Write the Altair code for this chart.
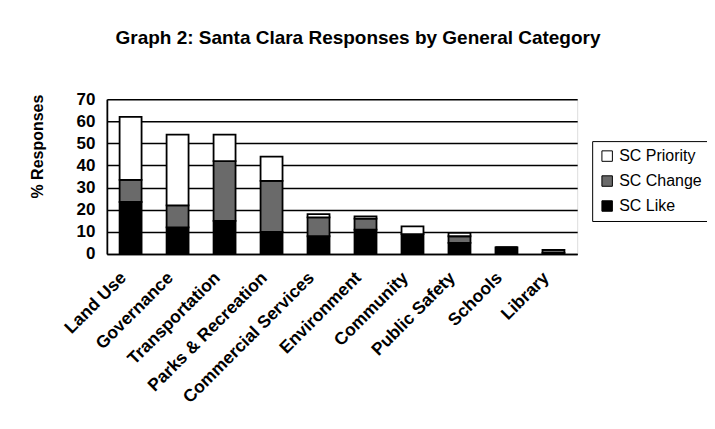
import altair as alt
import pandas as pd

categories = ["Land Use", "Governance", "Transportation", "Parks & Recreation",
              "Commercial Services", "Environment", "Community", "Public Safety",
              "Schools", "Library"]
sc_like = [23.5, 12, 15, 10, 8, 11, 9, 5, 3, 0.5]
sc_change = [10, 10, 27, 23, 8.5, 5, 0, 3, 0, 1.3]
sc_priority = [28.5, 32, 12, 11, 1.5, 1, 3.5, 1.5, 0, 0]

series = ["SC Priority", "SC Change", "SC Like"]
series_colors = ["#ffffff", "#6a6a6a", "#000000"]

rows = []
for i, c in enumerate(categories):
    for s, vals, o in [("SC Like", sc_like, 0), ("SC Change", sc_change, 1), ("SC Priority", sc_priority, 2)]:
        rows.append({"Category": c, "Series": s, "Value": vals[i], "ord": o})
df = pd.DataFrame(rows)

FONT = "Liberation Sans"

chart = alt.Chart(df).mark_bar(stroke="black", strokeWidth=1.8, size=22).encode(
    x=alt.X("Category:N", sort=categories, title=None,
            scale=alt.Scale(paddingInner=0.53, paddingOuter=0.27),
            axis=alt.Axis(labelAngle=-45, labelAlign="right", labelBaseline="middle",
                          labelFontSize=17.5, labelFontWeight="bold", labelFont=FONT,
                          labelColor="black", labelPadding=21, labelOffset=-7, ticks=False,
                          domainColor="black", domainWidth=1.5)),
    y=alt.Y("Value:Q", stack="zero", title="% Responses",
            scale=alt.Scale(domain=[0, 70], nice=False),
            axis=alt.Axis(values=[0, 10, 20, 30, 40, 50, 60, 70], labelFontSize=17,
                          labelFontWeight="bold", labelFont=FONT, labelColor="black",
                          labelPadding=12, ticks=False, domainColor="black", domainWidth=1.8,
                          grid=True, gridColor="black", gridWidth=1.5,
                          titleFontSize=16, titleFontWeight="bold", titleFont=FONT,
                          titleColor="black", titleX=-69, titleY=47, titleAngle=-90,
                          titleAlign="center", titleBaseline="middle")),
    color=alt.Color("Series:N", scale=alt.Scale(domain=series, range=series_colors),
                    legend=alt.Legend(title=None, orient="none", legendX=486, legendY=42,
                                      labelFontSize=16, labelFont=FONT, labelColor="black",
                                      symbolType="square", symbolSize=110,
                                      symbolStrokeColor="black", symbolStrokeWidth=1,
                                      rowPadding=9, padding=7, strokeColor="black",
                                      labelOffset=4)),
    order=alt.Order("ord:Q", sort="ascending"),
).properties(
    width=471, height=155,
    title=alt.TitleParams("Graph 2: Santa Clara Responses by General Category",
                          fontSize=19, fontWeight="bold", font=FONT, color="black",
                          anchor="middle", baseline="alphabetic", offset=27, dx=16),
    autosize=alt.AutoSizeParams(type="none"),
    padding={"left": 99, "top": 91, "right": 130, "bottom": 165},
).configure_view(stroke="black", strokeWidth=1.5).configure_legend(
    strokeDash=[3, 2]
).configure(background="white")

chart.save("out.html", embed_options={"renderer": "svg", "actions": False})
